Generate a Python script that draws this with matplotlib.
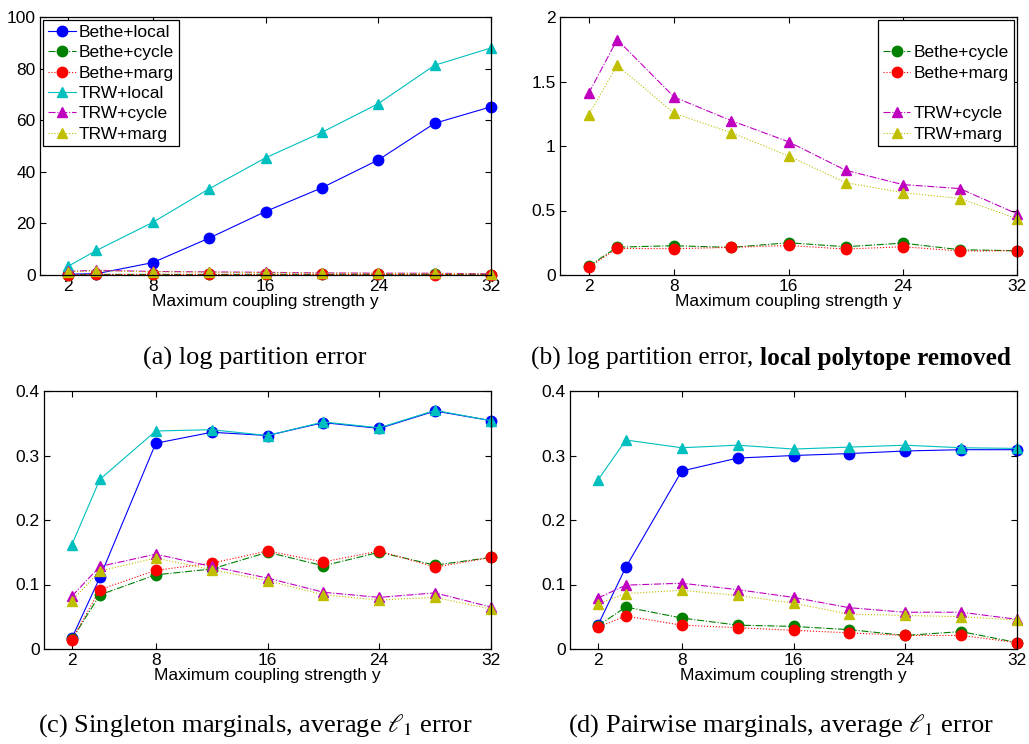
import numpy as np
import matplotlib
matplotlib.use("Agg")
import matplotlib.pyplot as plt
from matplotlib.lines import Line2D

plt.rcParams['font.family'] = ['Liberation Sans', 'DejaVu Sans']
plt.rcParams['mathtext.fontset'] = 'stix'

x = [2, 4, 8, 12, 16, 20, 24, 28, 32]
xticks = [2, 8, 16, 24, 32]

# (a) / (b) log partition error
a_bethe_local = [0.3, 0.5, 4.8, 14.3, 24.6, 33.8, 44.6, 58.8, 65.2]
a_trw_local = [3.4, 9.5, 20.4, 33.4, 45.4, 55.3, 66.4, 81.3, 88.0]
b_bethe_cycle = [0.067, 0.216, 0.227, 0.214, 0.250, 0.219, 0.247, 0.196, 0.188]
b_bethe_marg = [0.059, 0.206, 0.204, 0.214, 0.229, 0.201, 0.219, 0.186, 0.188]
b_trw_cycle = [1.407, 1.825, 1.379, 1.196, 1.033, 0.812, 0.701, 0.670, 0.474]
b_trw_marg = [1.240, 1.626, 1.253, 1.103, 0.923, 0.716, 0.639, 0.593, 0.436]

# (c) singleton marginals
c_bethe_local = [0.017, 0.111, 0.319, 0.336, 0.331, 0.351, 0.342, 0.369, 0.354]
c_trw_local = [0.162, 0.263, 0.338, 0.340, 0.331, 0.352, 0.343, 0.370, 0.354]
c_bethe_cycle = [0.015, 0.084, 0.115, 0.124, 0.150, 0.129, 0.150, 0.130, 0.142]
c_bethe_marg = [0.014, 0.092, 0.122, 0.133, 0.152, 0.135, 0.152, 0.127, 0.142]
c_trw_cycle = [0.082, 0.128, 0.147, 0.128, 0.110, 0.088, 0.080, 0.087, 0.065]
c_trw_marg = [0.075, 0.121, 0.141, 0.123, 0.106, 0.084, 0.076, 0.080, 0.062]

# (d) pairwise marginals
d_bethe_local = [0.037, 0.127, 0.276, 0.296, 0.300, 0.303, 0.307, 0.309, 0.309]
d_trw_local = [0.262, 0.324, 0.312, 0.316, 0.310, 0.313, 0.316, 0.312, 0.311]
d_bethe_cycle = [0.036, 0.065, 0.048, 0.037, 0.035, 0.030, 0.021, 0.027, 0.010]
d_bethe_marg = [0.034, 0.051, 0.037, 0.033, 0.029, 0.025, 0.021, 0.021, 0.010]
d_trw_cycle = [0.079, 0.099, 0.102, 0.092, 0.080, 0.064, 0.057, 0.057, 0.046]
d_trw_marg = [0.070, 0.086, 0.091, 0.083, 0.071, 0.054, 0.052, 0.050, 0.045]

labels = ['Bethe+local', 'Bethe+cycle', 'Bethe+marg', 'TRW+local', 'TRW+cycle', 'TRW+marg']
colors = [(0, 0, 1), (0, 0.5, 0), (1, 0, 0), (0, 0.75, 0.75), (0.75, 0, 0.75), (0.75, 0.75, 0)]
styles = ['-', '-.', ':', '-', '-.', ':']
markers = ['o', 'o', 'o', '^', '^', '^']

W, H = 1029, 744
fig = plt.figure(figsize=(W / 100, H / 100), dpi=100)

def add_ax(l, t, r, b):
    return fig.add_axes([l / W, 1 - b / H, (r - l) / W, (b - t) / H])

axA = add_ax(40, 17, 491, 275)
axB = add_ax(560, 17, 1017, 275)
axC = add_ax(44, 391, 491, 649)
axD = add_ax(570, 391, 1017, 649)

FS = 12.5

def draw(ax, series):
    hs = []
    for i, s in enumerate(series):
        if s is None:
            hs.append(Line2D([], [], linestyle='none', marker=None))
            continue
        h, = ax.plot(x, s, linestyle=styles[i], color=colors[i], marker=markers[i],
                     markersize=7.5, markerfacecolor=colors[i], markeredgecolor=colors[i],
                     linewidth=0.8, label=labels[i], clip_on=False)
        hs.append(h)
    return hs

def style(ax, ylim, yticks, yticklabels):
    ax.set_xlim(0, 32)
    ax.set_ylim(*ylim)
    ax.set_xticks(xticks)
    ax.set_xticklabels([str(t) for t in xticks])
    ax.set_yticks(yticks)
    ax.set_yticklabels(yticklabels)
    ax.tick_params(direction='in', top=True, right=True, length=4, width=0.8,
                   labelsize=FS, pad=3)
    for sp in ax.spines.values():
        sp.set_linewidth(0.9)
    ax.set_xlabel('Maximum coupling strength y', fontsize=FS, labelpad=0)

def legend(ax, hs, labs, loc):
    lg = ax.legend(hs, labs, loc=loc, fontsize=FS, labelspacing=0.3,
                   handlelength=1.6, handletextpad=0.2, borderpad=0.25, borderaxespad=0.2,
                   fancybox=False, edgecolor='black', framealpha=1)
    lg.get_frame().set_linewidth(0.9)

hA = draw(axA, [a_bethe_local, b_bethe_cycle, b_bethe_marg, a_trw_local, b_trw_cycle, b_trw_marg])
style(axA, (0, 100), [0, 20, 40, 60, 80, 100], ['0', '20', '40', '60', '80', '100'])
legend(axA, hA, labels, 'upper left')

hB = draw(axB, [None, b_bethe_cycle, b_bethe_marg, None, b_trw_cycle, b_trw_marg])
style(axB, (0, 2), [0, 0.5, 1, 1.5, 2], ['0', '0.5', '1', '1.5', '2'])
blabels = [' ', 'Bethe+cycle', 'Bethe+marg', ' ', 'TRW+cycle', 'TRW+marg']
legend(axB, hB, blabels, 'upper right')

draw(axC, [c_bethe_local, c_bethe_cycle, c_bethe_marg, c_trw_local, c_trw_cycle, c_trw_marg])
style(axC, (0, 0.4), [0, 0.1, 0.2, 0.3, 0.4], ['0', '0.1', '0.2', '0.3', '0.4'])

draw(axD, [d_bethe_local, d_bethe_cycle, d_bethe_marg, d_trw_local, d_trw_cycle, d_trw_marg])
style(axD, (0, 0.4), [0, 0.1, 0.2, 0.3, 0.4], ['0', '0.1', '0.2', '0.3', '0.4'])

serif = ['Liberation Serif', 'DejaVu Serif']
cap_fs = 19
fig.text(143 / W, 1 - 358 / H, '(a) log partition error', family=serif, fontsize=cap_fs,
         ha='left', va='center')
cap_b = 18.3
tb = fig.text(531 / W, 1 - 358 / H, '(b) log partition error, ', family=serif, fontsize=cap_b,
              ha='left', va='center')
fig.canvas.draw()
bb = tb.get_window_extent(renderer=fig.canvas.get_renderer())
fig.text(bb.x1 / W, 1 - 358 / H, 'local polytope removed', family=serif, fontsize=cap_b,
         fontweight='bold', ha='left', va='center')
fig.text(38 / W, 1 - 726 / H, r'(c) Singleton marginals, average $\ell_1$ error', family=serif,
         fontsize=cap_fs, ha='left', va='center')
fig.text(568 / W, 1 - 726 / H, r'(d) Pairwise marginals, average $\ell_1$ error', family=serif,
         fontsize=cap_fs, ha='left', va='center')

fig.savefig('out.png', dpi=100)
